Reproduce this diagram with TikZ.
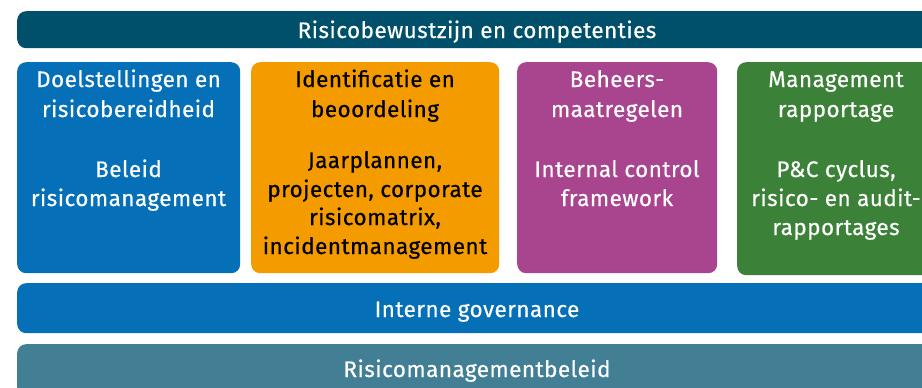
\documentclass[tikz,border=0pt]{standalone}
\usepackage{fontspec}
\setmainfont[LetterSpace=2,FakeBold=0.4]{Fira Sans}
\definecolor{ctop}{HTML}{00506B}
\definecolor{cblue}{HTML}{0570B7}
\definecolor{corange}{HTML}{F49B00}
\definecolor{cpurple}{HTML}{A9448F}
\definecolor{cgreen}{HTML}{3B8138}
\definecolor{cbottom}{HTML}{427F95}
\begin{document}
\begin{tikzpicture}[x=1pt,y=-1pt,
  panel/.style={draw=none, rounded corners=9pt, anchor=north west, inner sep=0pt},
  lbl/.style={anchor=base, inner sep=0pt, font=\fontsize{22.5}{29}\selectfont, text=white},
  dlbl/.style={lbl, text=black}]
\useasboundingbox (0,0) rectangle (922,388);
\clip (0,0) rectangle (922,388);
% bars
\node[panel, fill=ctop, minimum width=920pt, minimum height=37pt] (top) at (17,11) {};
\node[panel, fill=cblue, minimum width=920pt, minimum height=50pt] (gov) at (17,283) {};
\node[panel, fill=cbottom, minimum width=920pt, minimum height=52pt] (beleid) at (17,344) {};
% boxes
\node[panel, fill=cblue, minimum width=223pt, minimum height=211pt] (b1) at (17,62) {};
\node[panel, fill=corange, minimum width=248pt, minimum height=211pt] (b2) at (251,62) {};
\node[panel, fill=cpurple, minimum width=200pt, minimum height=211pt] (b3) at (517,62) {};
\node[panel, fill=cgreen, minimum width=198pt, minimum height=213pt] (b4) at (737,62) {};
% texts
\node[lbl] (ttop) at (477,38) {Risicobewustzijn en competenties};
\node[lbl] (tgov) at (477,317) {Interne governance};
\node[lbl] (tbel) at (477,377) {Risicomanagementbeleid};
% box 1
\node[lbl] (h1a) at (128.5,87) {Doelstellingen en};
\node[lbl] (h1b) at (128.5,117) {risicobereidheid};
\node[lbl] (p1a) at (128.5,177) {Beleid};
\node[lbl] (p1b) at (128.5,206) {risicomanagement};
% box 2
\node[dlbl] (h2a) at (375,87) {Identificatie en};
\node[dlbl] (h2b) at (375,117) {beoordeling};
\node[dlbl] (p2a) at (375,168) {Jaarplannen,};
\node[dlbl] (p2b) at (375,197) {projecten, corporate};
\node[dlbl] (p2c) at (375,225) {risicomatrix,};
\node[dlbl] (p2d) at (375,254) {incidentmanagement};
% box 3
\node[lbl] (h3a) at (617,87) {Beheers-};
\node[lbl] (h3b) at (617,117) {maatregelen};
\node[lbl] (p3a) at (617,177) {Internal control};
\node[lbl] (p3b) at (617,206) {framework};
% box 4
\node[lbl] (h4a) at (836,87) {Management};
\node[lbl] (h4b) at (836,117) {rapportage};
\node[lbl] (p4a) at (836,177) {P\&C cyclus,};
\node[lbl] (p4b) at (836,206) {risico- en audit-};
\node[lbl] (p4c) at (836,235) {rapportages};
\end{tikzpicture}
\end{document}
